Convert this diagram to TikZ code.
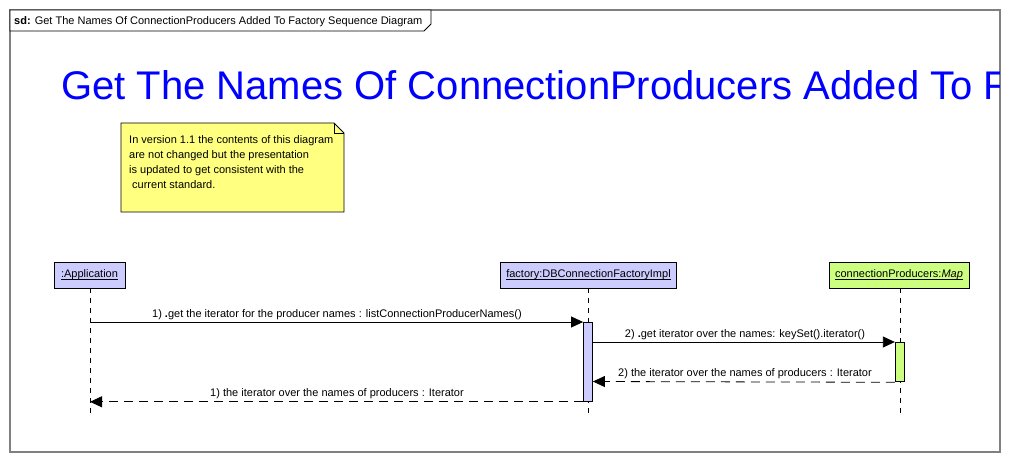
\documentclass[tikz,border=0pt]{standalone}
\usepackage{fontspec}
\setmainfont{Liberation Sans}
\usetikzlibrary{arrows.meta}
\definecolor{framegray}{HTML}{808080}
\definecolor{lifeblue}{HTML}{CCCCFF}
\definecolor{lifegreen}{HTML}{CCFF80}
\definecolor{noteyellow}{HTML}{FFFF80}
\definecolor{titleblue}{HTML}{0000FF}
\newcommand{\ulx}[1]{\setbox0\hbox{#1}\leavevmode\rlap{\rule[-1.5pt]{\wd0}{0.6pt}}\box0}
\tikzset{
  lbl/.style={font=\fontsize{11}{13}\selectfont, inner sep=0pt},
  headbox/.style={draw=black, line width=0.8pt, minimum height=26pt, inner sep=0pt, font=\fontsize{11}{13}\selectfont},
  lifeline/.style={draw=black, line width=0.8pt, dash pattern=on 5pt off 5pt},
  actbar/.style={draw=black, line width=0.8pt},
  callarrow/.style={draw=black, line width=0.8pt, -{Triangle[length=12pt,width=11pt]}},
  retarrow/.style={draw=black, line width=0.8pt, dash pattern=on 9pt off 6pt, -{Triangle[length=12pt,width=11pt]}},
  msglbl/.style={lbl, anchor=base},
}
\begin{document}
\begin{tikzpicture}[x=1pt,y=-1pt]
\useasboundingbox (0,0) rectangle (1010,462);
% outer frame
\draw[framegray, line width=1.5pt] (10,452) -- (10,10) -- (1000,10) -- (1000,452) -- cycle;
% tab
\draw[black, line width=0.8pt, fill=white] (10,10) -- (431,10) -- (431,24) -- (424,31) -- (10,31) -- cycle;
\node[lbl, anchor=base west] (tab) at (14,25) {\textbf{sd:} Get The Names Of ConnectionProducers Added To Factory Sequence Diagram};
% big title (clipped by the frame, as in the diagram)
\begin{scope}
\clip (10,40) rectangle (999,120);
\node[font=\fontsize{40}{44}\selectfont, text=titleblue, anchor=base west, inner sep=0pt] (title) at (61,100) {Get The Names Of ConnectionProducers Added To Factory Sequence Diagram};
\end{scope}
% note
\draw[black, line width=0.8pt, fill=noteyellow] (121,123) -- (334,123) -- (344,133) -- (344,212) -- (121,212) -- cycle;
\draw[black, line width=0.8pt] (334,123) -- (334,133) -- (344,133);
\node[lbl, anchor=base west] (n1) at (129,144) {In version 1.1 the contents of this diagram};
\node[lbl, anchor=base west] (n2) at (129,159) {are not changed but the presentation};
\node[lbl, anchor=base west] (n3) at (129,174) {is updated to get consistent with the};
\node[lbl, anchor=base west] (n4) at (132,189) {current standard.};
% lifeline heads
\node[headbox, fill=lifeblue, minimum width=71pt] (app) at (89.5,275) {\ulx{:Application}};
\node[headbox, fill=lifeblue, minimum width=176pt] (fac) at (588.5,275) {\ulx{factory:DBConnectionFactoryImpl}};
\node[headbox, fill=lifegreen, minimum width=140pt] (map) at (899,275) {\ulx{connectionProducers:\textit{Map}}};
% lifelines
\coordinate (append) at (90,416);
\coordinate (facend) at (588,416);
\coordinate (mapend) at (900,416);
\draw[lifeline] (app.south -| append) -- (append);
\draw[lifeline] (fac.south -| facend) -- (facend);
\draw[lifeline] (map.south -| mapend) -- (mapend);
% activation bars
\node[actbar, fill=lifeblue, minimum width=9pt, minimum height=79pt, inner sep=0pt, anchor=north] (facact) at (588,322) {};
\node[actbar, fill=lifegreen, minimum width=9.5pt, minimum height=39.5pt, inner sep=0pt, anchor=north] (mapact) at (900,342) {};
% messages
\coordinate (m1s) at (90,322);
\draw[callarrow] (m1s) -- (m1s -| facact.west);
\node[msglbl] (m1) at (337,318) {1) \textbf{.}get the iterator for the producer names : listConnectionProducerNames()};
\draw[callarrow] (facact.east |- 0,342) -- (mapact.north west);
\node[msglbl] (m2) at (745,338) {2) \textbf{.}get iterator over the names: keySet().iterator()};
\draw[retarrow] (mapact.south west) -- (facact.east |- 0,381.5);
\node[msglbl] (m3) at (745,377) {2) the iterator over the names of producers : Iterator};
\draw[retarrow] (facact.south west) -- (facact.south west -| append);
\node[msglbl] (m4) at (337,397) {1) the iterator over the names of producers : Iterator};
\end{tikzpicture}
\end{document}
